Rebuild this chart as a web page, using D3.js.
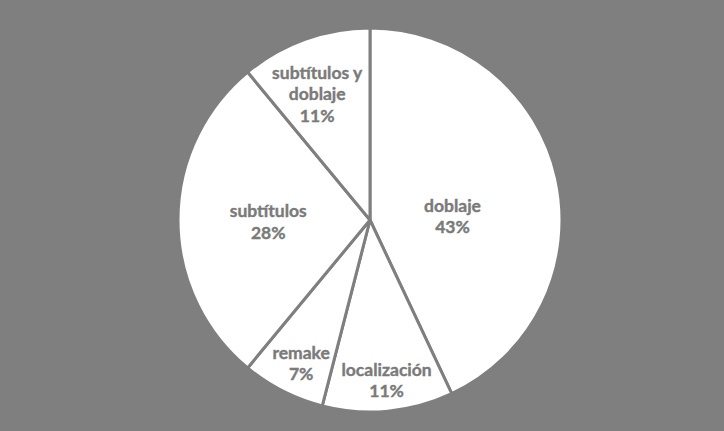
<!DOCTYPE html>
<html>
<head>
<meta charset="utf-8">
<script src="https://cdn.jsdelivr.net/npm/d3@7"></script>
<style>
  html, body { margin: 0; padding: 0; background: #7f7f7f; }
  svg { display: block; }
</style>
</head>
<body>
<svg id="chart" width="724" height="431"></svg>
<script>
const categories = ["doblaje", "localización", "remake", "subtítulos", "subtítulos y doblaje"];
const values = [43, 11, 7, 28, 11];
const percentLabels = ["43%", "11%", "7%", "28%", "11%"];

const W = 724, H = 431;
const cx = 370, cy = 220, R = 192;
const bg = "#7f7f7f";

// label placement (radius fraction, angular offset in degrees) — layout only
const labelPlacement = {
  "doblaje": [0.43, 10],
  "localización": [0.84, -0.5],
  "remake": [0.83, -1.4],
  "subtítulos": [0.53, -1],
  "subtítulos y doblaje": [0.71, -3]
};

const svg = d3.select("#chart");
svg.append("rect").attr("width", W).attr("height", H).attr("fill", bg);

const data = categories.map((c, i) => ({ cat: c, value: values[i], pct: percentLabels[i] }));
const pie = d3.pie().value(d => d.value).sort(null);
const arcs = pie(data);
const arc = d3.arc().innerRadius(0).outerRadius(R);

const g = svg.append("g").attr("transform", `translate(${cx},${cy})`);

g.selectAll("path.slice")
  .data(arcs)
  .join("path")
  .attr("class", "slice")
  .attr("d", arc)
  .attr("fill", "#ffffff")
  .attr("stroke", bg)
  .attr("stroke-width", 3)
  .attr("stroke-linejoin", "round");

function wrap(text) {
  const words = text.split(" ");
  const lines = [];
  let cur = "";
  words.forEach(w => {
    const t = cur ? cur + " " + w : w;
    if (t.length > 12 && cur) { lines.push(cur); cur = w; }
    else cur = t;
  });
  if (cur) lines.push(cur);
  return lines;
}

const lineH = 21.5;
arcs.forEach(a => {
  const [f, off] = labelPlacement[a.data.cat] || [0.6, 0];
  const mid = (a.startAngle + a.endAngle) / 2 + off * Math.PI / 180;
  const r = f * R;
  const x = Math.sin(mid) * r;
  const y = -Math.cos(mid) * r;
  const lines = wrap(a.data.cat).concat([a.data.pct]);
  const n = lines.length;
  const t = g.append("text")
    .attr("text-anchor", "middle")
    .attr("font-family", "Lato, 'Open Sans', sans-serif")
    .attr("font-weight", "bold")
    .attr("font-size", "17.5px")
    .attr("fill", "#7a7a7a")
    .attr("stroke", "#7a7a7a")
    .attr("stroke-width", 0.4);
  lines.forEach((ln, i) => {
    t.append("tspan")
      .attr("x", x)
      .attr("y", y + (i - (n - 1) / 2) * lineH + 6)
      .text(ln);
  });
});
</script>
</body>
</html>
